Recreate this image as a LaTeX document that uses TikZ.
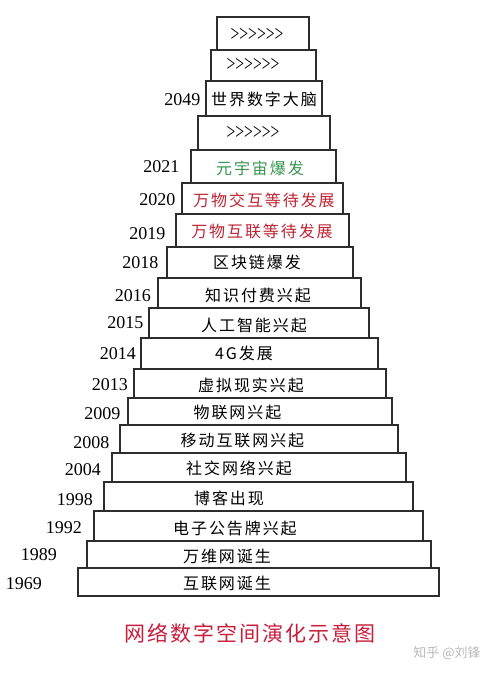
\documentclass[tikz,border=0pt]{standalone}
\usepackage{fontspec}
\setmainfont{Liberation Serif}
\newfontfamily\cjk{Noto Sans CJK SC}[LetterSpace=12]
\newfontfamily\cjktitle{Noto Sans CJK SC}[LetterSpace=10]
\newfontfamily\cjkplain{Noto Sans CJK SC}
\usetikzlibrary{fit}
\definecolor{boxline}{RGB}{45,45,45}
\definecolor{tgreen}{RGB}{55,150,80}
\definecolor{tred}{RGB}{190,35,50}
\definecolor{ttitle}{RGB}{200,30,60}
\definecolor{wm}{RGB}{185,185,185}
\newcommand{\chevrons}{\scalebox{0.68}[1]{>\kern0pt>\kern0pt>\kern0pt>\kern0pt>\kern0pt>}}
\tikzset{
  stage/.style={draw=boxline, line width=1.1bp, fill=white, inner sep=0pt},
  stagetext/.style={inner sep=0pt, font=\cjk\fontsize{16bp}{18bp}\selectfont},
  chev/.style={inner sep=0pt, font=\fontsize{23bp}{25bp}\selectfont},
  year/.style={inner sep=0pt, anchor=east, font=\fontsize{18bp}{20bp}\selectfont},
}
\begin{document}
\begin{tikzpicture}[x=1bp,y=-1bp]
\useasboundingbox[fill=white] (0,0) rectangle (500,674);
% boxes
\node[stage, fit={(217,17) (309,50)}] (b1) {};
\node[stage, fit={(211,50) (316,81)}] (b2) {};
\node[stage, fit={(206,81) (322,116)}] (b3) {};
\node[stage, fit={(198,116) (330,150)}] (b4) {};
\node[stage, fit={(191,150) (336,183)}] (b5) {};
\node[stage, fit={(182,183) (343,214)}] (b6) {};
\node[stage, fit={(176,214) (349,247)}] (b7) {};
\node[stage, fit={(167,247) (353,278)}] (b8) {};
\node[stage, fit={(158,278) (361,308)}] (b9) {};
\node[stage, fit={(149,308) (369,338)}] (b10) {};
\node[stage, fit={(141,338) (378,369)}] (b11) {};
\node[stage, fit={(134,369) (386,398)}] (b12) {};
\node[stage, fit={(128,398) (392,425)}] (b13) {};
\node[stage, fit={(120,425) (398,453)}] (b14) {};
\node[stage, fit={(112,453) (406,482)}] (b15) {};
\node[stage, fit={(104,482) (413,511)}] (b16) {};
\node[stage, fit={(94,511) (423,541)}] (b17) {};
\node[stage, fit={(87,541) (431,568)}] (b18) {};
\node[stage, fit={(78,568) (439,596)}] (b19) {};
% box texts
\node[chev] (t1) at (257,35) {\chevrons};
\node[chev] (t2) at (253,65) {\chevrons};
\node[stagetext] (t3) at (264,99.5) {世界数字大脑};
\node[chev] (t4) at (253,133) {\chevrons};
\node[stagetext, text=tgreen] (t5) at (260,168) {元宇宙爆发};
\node[stagetext, text=tred] (t6) at (264,200) {万物交互等待发展};
\node[stagetext, text=tred] (t7) at (262,231) {万物互联等待发展};
\node[stagetext] (t8) at (257,262) {区块链爆发};
\node[stagetext] (t9) at (258,295) {知识付费兴起};
\node[stagetext] (t10) at (254,325) {人工智能兴起};
\node[stagetext] (t11) at (244,353.5) {4G发展};
\node[stagetext] (t12) at (251,385) {虚拟现实兴起};
\node[stagetext] (t13) at (237.5,412) {物联网兴起};
\node[stagetext] (t14) at (242.5,440) {移动互联网兴起};
\node[stagetext] (t15) at (239,468.5) {社交网络兴起};
\node[stagetext] (t16) at (229,498) {博客出现};
\node[stagetext] (t17) at (235,528) {电子公告牌兴起};
\node[stagetext] (t18) at (227,556.5) {万维网诞生};
\node[stagetext] (t19) at (227,583) {互联网诞生};
% years
\node[year] (y2049) at (200.5,99.3) {2049};
\node[year] (y2021) at (179.5,167) {2021};
\node[year] (y2020) at (175.5,199.5) {2020};
\node[year] (y2019) at (165.5,234) {2019};
\node[year] (y2018) at (158.5,263) {2018};
\node[year] (y2016) at (151,295.7) {2016};
\node[year] (y2015) at (143.5,322.7) {2015};
\node[year] (y2014) at (136,353.3) {2014};
\node[year] (y2013) at (128,385) {2013};
\node[year] (y2009) at (120.5,414) {2009};
\node[year] (y2008) at (109.5,442.7) {2008};
\node[year] (y2004) at (101,469.3) {2004};
\node[year] (y1998) at (93,500) {1998};
\node[year] (y1992) at (82,527.3) {1992};
\node[year] (y1989) at (57,555) {1989};
\node[year] (y1969) at (42,584) {1969};
% title and watermark
\node[inner sep=0pt, text=ttitle, font=\cjktitle\fontsize{21bp}{24bp}\selectfont] (title) at (250,633) {网络数字空间演化示意图};
\node[inner sep=0pt, text=wm, font=\cjkplain\fontsize{13bp}{15bp}\selectfont] (wmark) at (447,653) {知乎 @刘锋};
\end{tikzpicture}
\end{document}
